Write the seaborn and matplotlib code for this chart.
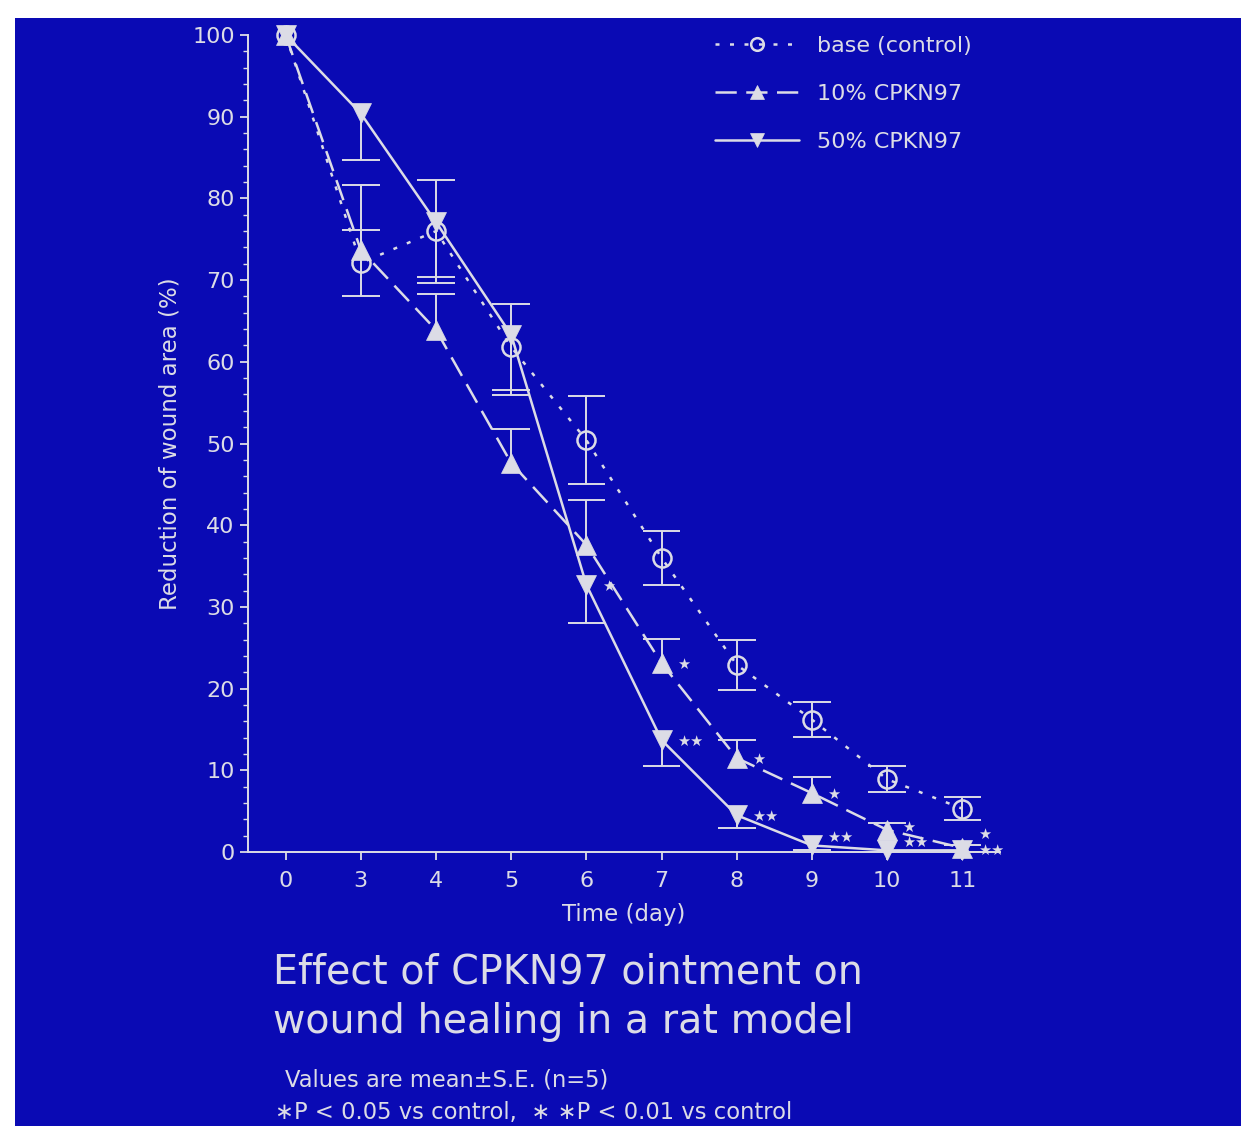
"""
Wound healing chart: reduction of wound area over time for three ointments.
"""

import numpy as np
import matplotlib
matplotlib.use("Agg")
import matplotlib.pyplot as plt
import seaborn as sns
from matplotlib.patches import Rectangle
from matplotlib.ticker import MultipleLocator

# Data
days = ["0", "3", "4", "5", "6", "7", "8", "9", "10", "11"]

control_mean = [100, 72.1, 76.0, 61.8, 50.4, 36.0, 22.9, 16.2, 8.9, 5.3]
control_se = [0, 4.0, 6.3, 5.3, 5.4, 3.3, 3.1, 2.1, 1.6, 1.4]

cpkn10_mean = [100, 73.7, 63.9, 47.6, 37.6, 23.1, 11.5, 7.2, 2.7, 0.5]
cpkn10_se = [0, 8.0, 4.4, 4.2, 5.5, 3.0, 2.2, 2.0, 0.8, 0.3]

cpkn50_mean = [100, 90.4, 77.1, 63.3, 32.7, 13.7, 4.5, 0.8, 0.2, 0.2]
cpkn50_se = [0, 5.7, 6.7, 7.4, 4.7, 3.2, 1.6, 0.5, 0.2, 0.2]

cpkn10_sig = ["", "", "", "", "", "*", "*", "*", "*", "*"]
cpkn50_sig = ["", "", "", "", "*", "**", "**", "**", "**", "**"]

# vertical nudge of the star labels (points), so they do not collide
cpkn10_star_dy = [0, 0, 0, 0, 0, 0, 0, 0, 3, 11]
cpkn50_star_dy = [0, 0, 0, 0, 0, 0, 0, 7, 7, 1]

BG = "#0A0AB4"
FG = "#DCDCE6"

sns.set_theme(style="ticks")
plt.rcParams["font.family"] = ["DejaVu Sans"]

W, H = 1241, 1126
fig = plt.figure(figsize=(W / 100, H / 100), dpi=100, facecolor="white")

# Blue slide panel
fig.patches.append(Rectangle((15 / W, 0), 1, 1 - 18 / H, transform=fig.transFigure,
                             facecolor=BG, edgecolor="none", zorder=-10))

ax = fig.add_axes([248 / W, 1 - 852 / H, 752 / W, 817 / H])
ax.set_facecolor(BG)

pos = np.arange(len(days))

series = [
    ("base (control)", control_mean, control_se, "both",
     dict(marker="o", markersize=13, markerfacecolor="none", markeredgewidth=1.8,
          linestyle=(0, (1.6, 4.2)))),
    ("10% CPKN97", cpkn10_mean, cpkn10_se, "up",
     dict(marker="^", markersize=14, markerfacecolor=FG, markeredgewidth=0.5,
          linestyle=(0, (8.5, 3.8)))),
    ("50% CPKN97", cpkn50_mean, cpkn50_se, "down",
     dict(marker="v", markersize=14, markerfacecolor=FG, markeredgewidth=0.5,
          linestyle="-")),
]

cap = 0.25
for label, mean, se, side, style in series:
    sns.lineplot(x=pos, y=mean, ax=ax, color=FG, linewidth=1.8, errorbar=None,
                 markeredgecolor=FG, clip_on=False, label=label, zorder=3, **style)

    # One-sided / two-sided error bars
    mean_a = np.array(mean)
    se_a = np.array(se)
    keep = se_a > 0
    lo = mean_a - se_a if side in ("both", "down") else mean_a
    hi = mean_a + se_a if side in ("both", "up") else mean_a
    ax.vlines(pos[keep], lo[keep], hi[keep], color=FG, lw=1.4, zorder=2)
    if side in ("both", "down"):
        ax.hlines(lo[keep], pos[keep] - cap, pos[keep] + cap, color=FG, lw=1.4, zorder=2)
    if side in ("both", "up"):
        ax.hlines(hi[keep], pos[keep] - cap, pos[keep] + cap, color=FG, lw=1.4, zorder=2)

# Significance stars
for mean, sig, nudge in [(cpkn10_mean, cpkn10_sig, cpkn10_star_dy),
                         (cpkn50_mean, cpkn50_sig, cpkn50_star_dy)]:
    for x, y, s, dy in zip(pos, mean, sig, nudge):
        if not s:
            continue
        ax.annotate(s.replace("*", "★"), (x, y), xytext=(11, dy - 1), textcoords="offset points",
                    ha="left", va="center", color=FG, fontsize=10.5, annotation_clip=False)

# Axes styling
ax.set_xlim(-0.5, 9.5)
ax.set_ylim(0, 100)
ax.set_xticks(pos, days)
ax.yaxis.set_major_locator(MultipleLocator(10))
ax.yaxis.set_minor_locator(MultipleLocator(2))
ax.tick_params(axis="both", which="major", colors=FG, labelsize=16, length=6, width=1.3)
ax.tick_params(axis="x", which="major", pad=8)
ax.tick_params(axis="y", which="minor", colors=FG, length=3.5, width=1.0)
for side in ("top", "right"):
    ax.spines[side].set_visible(False)
for side in ("left", "bottom"):
    ax.spines[side].set_color(FG)
    ax.spines[side].set_linewidth(1.4)

ax.set_xlabel("Time (day)", color=FG, fontsize=16.5, labelpad=8)
ax.set_ylabel("Reduction of wound area (%)", color=FG, fontsize=16.5, labelpad=8)

leg = ax.legend(loc="upper left", bbox_to_anchor=(715 / W, 1 - 36 / H),
                bbox_transform=fig.transFigure, frameon=False, fontsize=16,
                handlelength=3.8, handletextpad=0.8, labelspacing=1.25,
                borderpad=0, borderaxespad=0, markerscale=0.7)
for t in leg.get_texts():
    t.set_color(FG)

# Caption
fig.text(273 / W, 1 - 972 / H, "Effect of CPKN97 ointment on", color=FG,
         fontsize=28.5, ha="left", va="center")
fig.text(273 / W, 1 - 1022 / H, "wound healing in a rat model", color=FG,
         fontsize=28.5, ha="left", va="center")
fig.text(285 / W, 1 - 1080 / H, "Values are mean\u00b1S.E. (n=5)", color=FG,
         fontsize=16.3, ha="left", va="center")
fig.text(275 / W, 1 - 1112 / H, "\u2217P < 0.05 vs control,  \u2217 \u2217P < 0.01 vs control",
         color=FG, fontsize=16.3, ha="left", va="center")

fig.savefig("out.png", dpi=100, facecolor="white")
plt.close(fig)
